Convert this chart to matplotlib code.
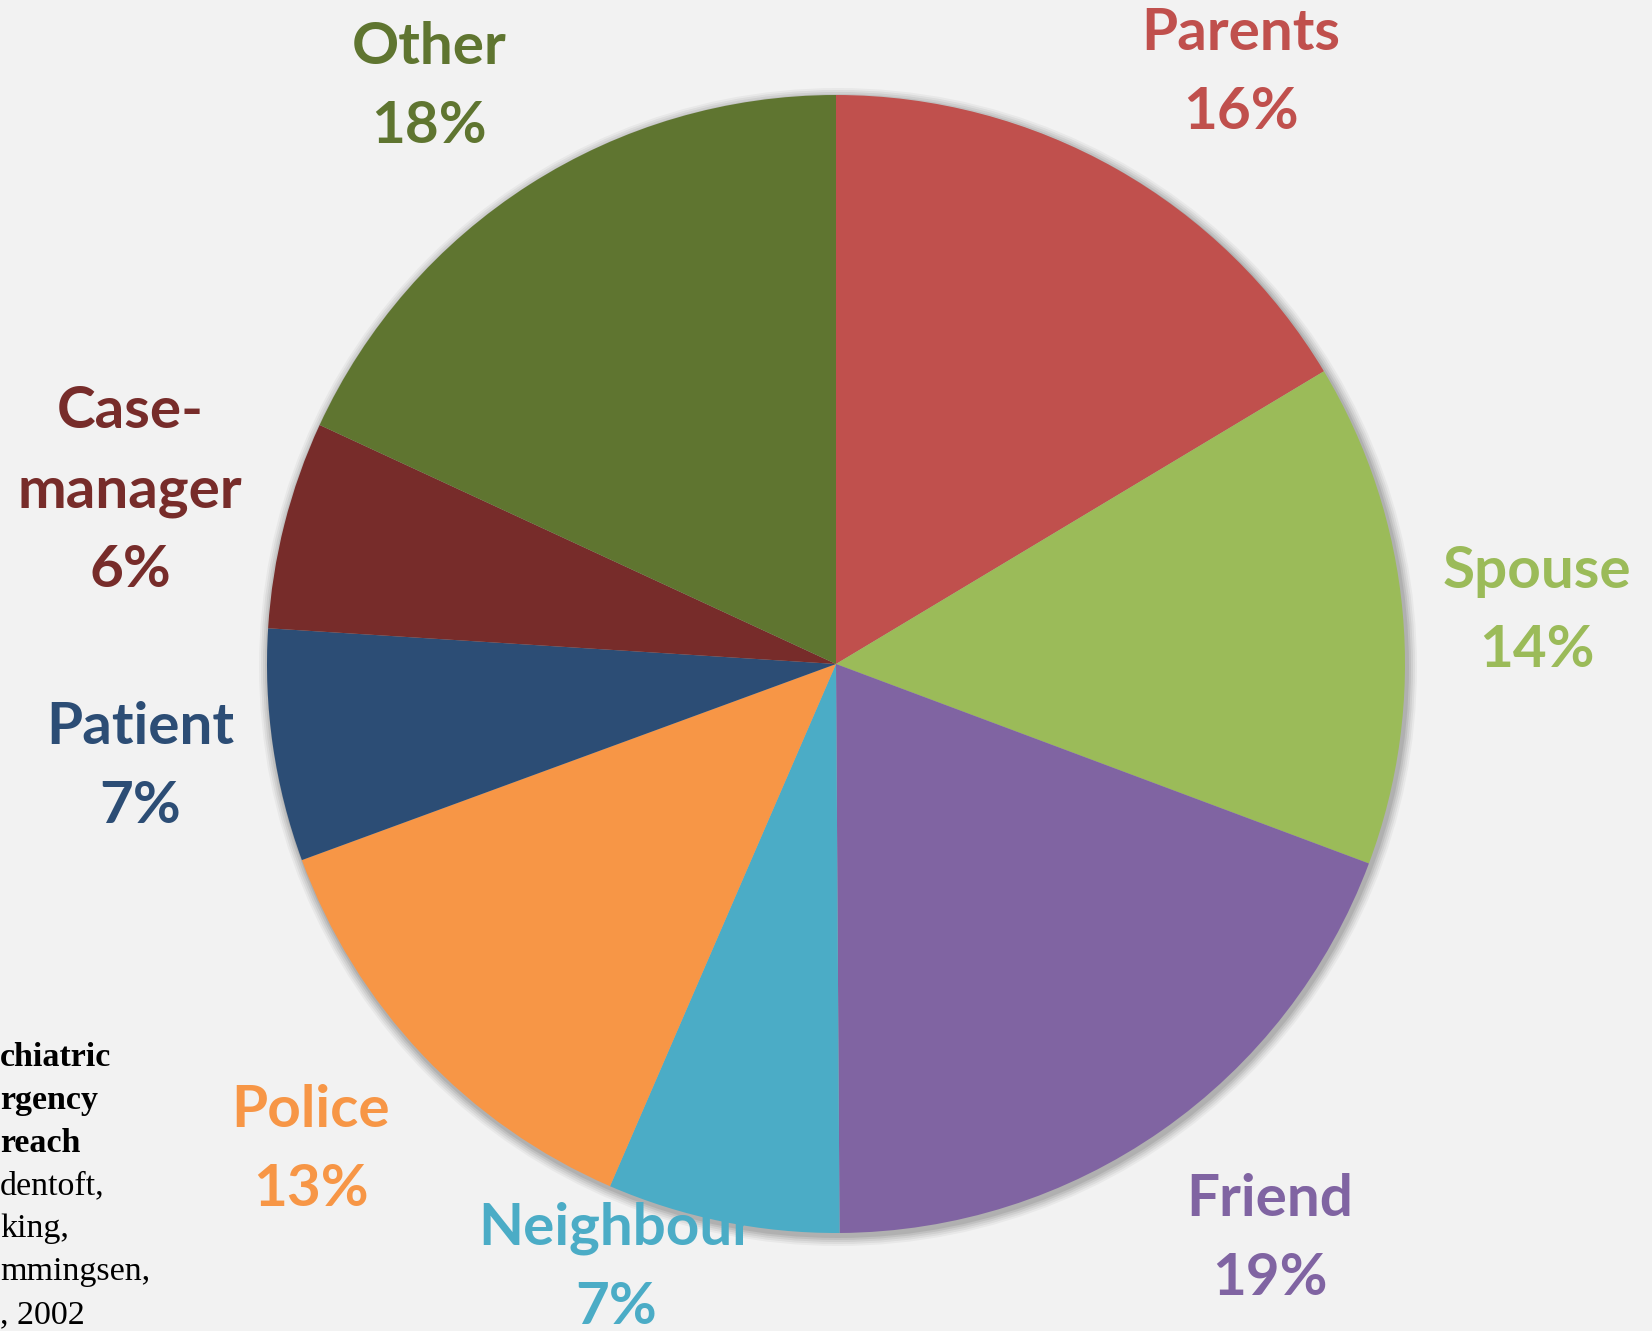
import matplotlib.pyplot as plt
from matplotlib.patches import Circle

# Data (shares)
categories = ['Parents', 'Spouse', 'Friend', 'Neighbour', 'Police',
              'Patient', 'Case-\nmanager', 'Other']
shares = [16.4, 14.3, 19.2, 6.6, 12.9, 6.6, 5.9, 18.1]
colors = ['#C0504D', '#9BBB59', '#8064A2', '#4BACC6', '#F79646',
          '#2C4D75', '#772C2A', '#5F7530']

# Label anchor positions in pixels (x, y from top)
label_pos = [(1241, 73), (1537, 611), (1270, 1239), (616, 1268),
             (311, 1150), (140, 767), (130, 491), (429, 87)]

citation_bold = ['chiatric', 'rgency', 'reach']
citation_plain = ['dentoft,', 'king,', 'mmingsen,', ', 2002']

W, H = 1652, 1331
bg = '#F2F2F2'

fig = plt.figure(figsize=(W / 100, H / 100), dpi=100, facecolor=bg)
ax = fig.add_axes([0, 0, 1, 1])
ax.set_facecolor(bg)

cx, cy, r = 836, H - 664, 569

# soft shadow round the pie
for i, a in enumerate([0.04, 0.05, 0.06, 0.07, 0.08]):
    ax.add_patch(Circle((cx + 2, cy - 3), r + 10 - 2 * i, color='#000000',
                        alpha=a, lw=0, zorder=0))

wedges, _ = ax.pie(shares, colors=colors, startangle=90, counterclock=False,
                   center=(cx, cy), radius=r, frame=True,
                   wedgeprops=dict(linewidth=0))
for w in wedges:
    w.set_zorder(1)
ax.set_xlim(0, W)
ax.set_ylim(0, H)
ax.set_aspect('equal')
ax.axis('off')

for name, val, col, (x, y) in zip(categories, shares, colors, label_pos):
    ax.text(x, H - y, f'{name}\n{round(val)}%', color=col, fontsize=42,
            fontweight='bold', family='Lato', ha='center', va='center',
            linespacing=1.6, zorder=5)

y0 = 1057
for i, s in enumerate(citation_bold + citation_plain):
    bold = i < len(citation_bold)
    ax.text(0, H - (y0 + i * 43), s, fontsize=24.5, family='Liberation Serif',
            fontweight='bold' if bold else 'normal', color='black',
            ha='left', va='center', zorder=5)

fig.savefig('out.png', dpi=100, facecolor=bg)
